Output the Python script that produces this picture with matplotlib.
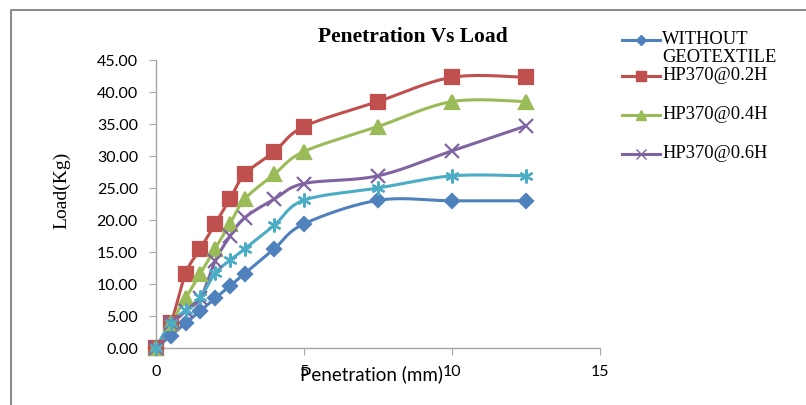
import numpy as np
import matplotlib.pyplot as plt
from matplotlib.lines import Line2D
from matplotlib.ticker import FormatStrFormatter

# Penetration readings (mm) and loads (kg) for each test
penetration = [0, 0.5, 1, 1.5, 2, 2.5, 3, 4, 5, 7.5, 10, 12.5]
without_geo = [0, 1.94, 3.88, 5.82, 7.76, 9.70, 11.64, 15.52, 19.40, 23.08, 23.00, 23.00]
hp_02 = [0, 3.88, 11.64, 15.52, 19.40, 23.28, 27.16, 30.70, 34.60, 38.50, 42.30, 42.30]
hp_04 = [0, 3.88, 7.76, 11.64, 15.52, 19.40, 23.28, 27.16, 30.70, 34.60, 38.50, 38.50]
hp_06 = [0, 3.88, 5.82, 7.76, 13.58, 17.46, 20.37, 23.28, 25.70, 26.90, 30.80, 34.70]
hp_08 = [0, 3.88, 5.90, 7.90, 11.70, 13.70, 15.50, 19.20, 23.10, 25.00, 26.90, 26.90]

labels = ['WITHOUT\nGEOTEXTILE', 'HP370@0.2H', 'HP370@0.4H', 'HP370@0.6H', 'HP370@0.8H']
series = [without_geo, hp_02, hp_04, hp_06, hp_08]
colors = ['#4F81BD', '#C0504D', '#9BBB59', '#8064A2', '#4BACC6']
markers = ['D', 's', '^', 'x', (6, 2, 0)]
msizes = [7, 10, 10, 10, 10]


def smooth(x, y, n=20):
    # Excel style smoothed line: cubic Bezier with Catmull-Rom control points
    x = np.asarray(x, float)
    y = np.asarray(y, float)
    px = np.concatenate([[x[0]], x, [x[-1]]])
    py = np.concatenate([[y[0]], y, [y[-1]]])
    t = np.linspace(0, 1, n)[:, None]
    xs, ys = [], []
    for i in range(1, len(px) - 2):
        p0 = np.array([px[i], py[i]])
        p3 = np.array([px[i + 1], py[i + 1]])
        c1 = p0 + (np.array([px[i + 1], py[i + 1]]) - np.array([px[i - 1], py[i - 1]])) / 6
        c2 = p3 - (np.array([px[i + 2], py[i + 2]]) - p0) / 6
        pts = ((1 - t) ** 3) * p0 + 3 * ((1 - t) ** 2) * t * c1 + 3 * (1 - t) * t ** 2 * c2 + t ** 3 * p3
        xs.append(pts[:, 0])
        ys.append(pts[:, 1])
    return np.concatenate(xs), np.concatenate(ys)


fig = plt.figure(figsize=(8.06, 4.05), dpi=100)
ax = fig.add_axes([156 / 806, 57 / 405, 444 / 806, 288 / 405])

for y, c, m, ms in zip(series, colors, markers, msizes):
    sx, sy = smooth(penetration, y)
    ax.plot(sx, sy, color=c, lw=2.2, clip_on=False, zorder=2)
    ax.plot(penetration, y, ls='none', marker=m, ms=ms, color=c, mec=c,
            mew=1.6, clip_on=False, zorder=3)

ax.set_xlim(0, 15)
ax.set_ylim(0, 45)
ax.set_xticks([0, 5, 10, 15])
ax.set_yticks(np.arange(0, 46, 5))
ax.yaxis.set_major_formatter(FormatStrFormatter('%.2f'))
for s in ['top', 'right']:
    ax.spines[s].set_visible(False)
for s in ['left', 'bottom']:
    ax.spines[s].set_color('#A6A6A6')
    ax.spines[s].set_linewidth(1.0)
ax.tick_params(axis='both', colors='#A6A6A6', length=5, labelcolor='black',
               labelsize=11.5)
ax.tick_params(axis='y', pad=8)
ax.tick_params(axis='x', pad=7)
for lbl in ax.get_xticklabels() + ax.get_yticklabels():
    lbl.set_family('Lato')

fig.text(413 / 806, 1 - 37 / 405, 'Penetration Vs Load', ha='center', va='center',
         family='Liberation Serif', weight='bold', size=15.5)
fig.text(62 / 806, 1 - 190 / 405, 'Load(Kg)', ha='center', va='center', rotation=90,
         family='Liberation Serif', size=14)
fig.text(372 / 806, 1 - 374 / 405, 'Penetration (mm)', ha='center', va='center',
         family='Lato', size=13.5)

# Legend drawn by hand (first four entries only)
leg_y = [40, 76, 115, 154]
for i, ly in enumerate(leg_y):
    yf = 1 - ly / 405
    fig.add_artist(Line2D([622 / 806, 660 / 806], [yf, yf], color=colors[i], lw=2.2,
                          transform=fig.transFigure))
    fig.add_artist(Line2D([641 / 806], [yf], color=colors[i], marker=markers[i],
                          ms=msizes[i] * 0.75, mew=1.0, transform=fig.transFigure))
    fig.text(662 / 806, yf, labels[i].split('\n')[0], ha='left', va='center',
             family='Liberation Serif', size=13.3)
fig.text(662 / 806, 1 - 57 / 405, 'GEOTEXTILE', ha='left', va='center',
         family='Liberation Serif', size=13.3)

# Chart frame
fig.add_artist(Line2D([11 / 806, 11 / 806, 1], [0, 1 - 10 / 405, 1 - 10 / 405],
                      color='#8C8C8C', lw=1.5, transform=fig.transFigure))

fig.savefig('out.png', dpi=100)
